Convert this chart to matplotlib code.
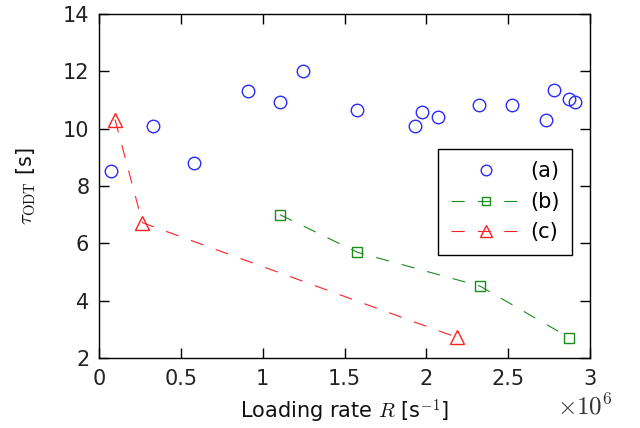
import matplotlib
matplotlib.use("Agg")
import matplotlib.pyplot as plt
from matplotlib.ticker import FuncFormatter

plt.rcParams['font.family'] = ['DejaVu Sans']
plt.rcParams['mathtext.fontset'] = 'cm'
plt.rcParams['lines.scale_dashes'] = False

# (a) blue circles
a_x = [0.075, 0.332, 0.58, 0.908, 1.104, 1.244, 1.578, 1.930, 1.975, 2.073,
       2.323, 2.523, 2.731, 2.781, 2.869, 2.906]
a_y = [8.51, 10.08, 8.79, 11.33, 10.93, 12.02, 10.67, 10.09, 10.57, 10.41,
       10.84, 10.83, 10.30, 11.36, 11.04, 10.93]
# (b) green squares
b_x = [1.106, 1.578, 2.327, 2.873]
b_y = [7.0, 5.69, 4.51, 2.71]
# (c) red triangles
c_x = [0.098, 0.265, 2.185]
c_y = [10.32, 6.72, 2.72]

scale = 1e6
labels = ['(a)', '(b)', '(c)']
xticks = [0, 0.5, 1, 1.5, 2, 2.5, 3]
yticks = [2, 4, 6, 8, 10, 12, 14]

fig = plt.figure(figsize=(6.4, 4.28), dpi=100)
ax = fig.add_axes([0.1547, 0.1636, 0.9219 - 0.1547, 0.967 - 0.1636])

blue, green, red = '#2a2aff', '#1a8c1a', '#ff2020'
ax.plot([v * scale for v in a_x], a_y, linestyle='none', marker='o', ms=9,
        mfc='none', mec=blue, mew=1.0, label=labels[0])
ax.plot([v * scale for v in b_x], b_y, linestyle=(0, (9.5, 9.5)), lw=0.8, color=green,
        marker='s', ms=7, mfc='none', mec=green, mew=1.0, label=labels[1])
ax.plot([v * scale for v in c_x], c_y, linestyle=(0, (9.5, 9.5)), lw=0.8, color=red,
        marker='^', ms=10, mfc='none', mec=red, mew=1.0, label=labels[2])

ax.set_xlim(0, 3e6)
ax.set_ylim(2, 14)
ax.set_xticks([v * scale for v in xticks])
ax.set_yticks(yticks)
ax.xaxis.set_major_formatter(FuncFormatter(lambda v, p: '%g' % (v / scale)))
ax.text(0.99, -0.14, r'$\times10^{6}$', transform=ax.transAxes, fontsize=18,
        ha='center', va='center', color='#333333')

ax.tick_params(direction='in', length=7, width=1, labelsize=15,
               top=True, right=True, colors='black', labelcolor='#222222')
ax.tick_params(axis='x', pad=8)
ax.tick_params(axis='y', pad=7)
for s in ax.spines.values():
    s.set_linewidth(1.0)

ax.set_xlabel(r'Loading rate $R$ [s$^{-1}$]', fontsize=15, labelpad=6, color='#111111')
ax.set_ylabel(r'$\tau_{\rm ODT}$ [s]', fontsize=15, labelpad=18, color='#111111')

leg = ax.legend(loc='upper right', bbox_to_anchor=(0.9635, 0.608), fontsize=15,
                numpoints=1, handlelength=3.4, fancybox=False, framealpha=1,
                edgecolor='black', borderpad=0.6, labelspacing=0.5,
                handletextpad=0.4, borderaxespad=0, markerscale=0.85)
leg.get_frame().set_linewidth(1.0)

fig.savefig('out.png', dpi=100)
